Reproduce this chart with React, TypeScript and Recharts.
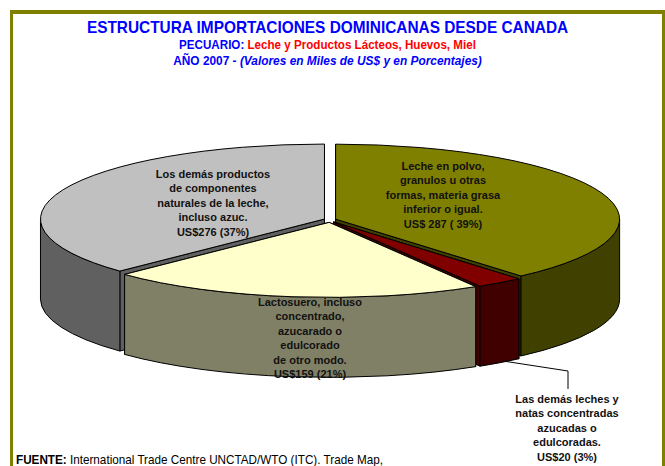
import React from 'react';
import { PieChart, Pie } from 'recharts';

// Order is back-to-front so the painter's order of the slices works out
const CATEGORIES = [
    'Los demás productos de componentes naturales de la leche, incluso azuc.',
    'Leche en polvo, granulos u otras formas, materia grasa inferior o igual.',
    'Las demás leches y natas concentradas azucadas o edulcoradas.',
    'Lactosuero, incluso concentrado, azucarado o edulcorado de otro modo.',
];
const VALUES = [276, 287, 20, 159];
const TOP_COLORS = ['#C0C0C0', '#808000', '#800000', '#FFFFCC'];
const SIDE_COLORS = ['#606060', '#404000', '#400000', '#808066'];

const LABEL_LINES = [
    ['Los demás productos', 'de componentes', 'naturales de la leche,', 'incluso azuc.', 'US$276 (37%)'],
    ['Leche en polvo,', 'granulos u otras', 'formas, materia grasa', 'inferior o igual.', 'US$ 287 ( 39%)'],
    ['Las demás leches y', 'natas concentradas', 'azucadas o', 'edulcoradas.', 'US$20 (3%)'],
    ['Lactosuero, incluso', 'concentrado,', 'azucarado o', 'edulcorado', 'de otro modo.', 'US$159 (21%)'],
];

const chartData = CATEGORIES.map((name, i) => ({
    name,
    value: VALUES[i],
    fill: TOP_COLORS[i],
    side: SIDE_COLORS[i],
}));

const TOTAL = VALUES.reduce((a, b) => a + b, 0);
// first slice has to end at 12 o'clock
const START_ANGLE = 90 + (VALUES[0] / TOTAL) * 360;

const TILT = 75 / 284;
const DEPTH = 80;
const EXPLODE = 6;

const rad = (deg: number) => (deg * Math.PI) / 180;

// Pie slice drawn as a tilted prism
const Slice3D = (props: any) => {
    const { cx, cy, outerRadius, startAngle, endAngle, midAngle, fill, side } = props;
    const rx = outerRadius;
    const ry = outerRadius * TILT;

    // clockwise degrees from 12 o'clock
    let a = 90 - startAngle;
    let b = 90 - endAngle;
    if (a < -0.001) {
        a += 360;
        b += 360;
    }
    const mid = rad(90 - midAngle);
    const ox = cx + EXPLODE * Math.sin(mid);
    const oy = cy - EXPLODE * Math.cos(mid) * 0.4;

    const pt = (deg: number, drop = 0) => [
        ox + rx * Math.sin(rad(deg)),
        oy - ry * Math.cos(rad(deg)) + drop,
    ];
    const arc = (from: number, to: number, drop = 0) => {
        const [x, y] = pt(to, drop);
        const large = Math.abs(to - from) > 180 ? 1 : 0;
        const sweep = to > from ? 1 : 0;
        return `A${rx},${ry} 0 ${large} ${sweep} ${x},${y}`;
    };
    const face = (deg: number) => {
        const [x, y] = pt(deg);
        return `M${ox},${oy} L${x},${y} L${x},${y + DEPTH} L${ox},${oy + DEPTH} Z`;
    };

    const sideFrom = Math.max(a, 90);
    const sideTo = Math.min(b, 270);
    let sidePath = '';
    if (sideTo > sideFrom) {
        const [x0, y0] = pt(sideFrom);
        const [x1, y1] = pt(sideTo, DEPTH);
        sidePath = `M${x0},${y0} ${arc(sideFrom, sideTo)} L${x1},${y1} ${arc(sideTo, sideFrom, DEPTH)} Z`;
    }
    const [sx, sy] = pt(a);

    return (
        <g stroke="#000" strokeWidth={1} strokeLinejoin="round">
            <path d={face(a)} fill={side} />
            <path d={face(b)} fill={side} />
            {sidePath && <path d={sidePath} fill={side} />}
            <path d={`M${ox},${oy} L${sx},${sy} ${arc(a, b)} Z`} fill={fill} />
        </g>
    );
};

const SliceLabel = ({ lines, x, y, step = 14.4 }: { lines: string[]; x: number; y: number; step?: number }) => (
    <>
        {lines.map((line, i) => (
            <div
                key={i}
                style={{
                    position: 'absolute',
                    left: x - 100,
                    width: 200,
                    top: y + i * step - 8,
                    lineHeight: '16px',
                    textAlign: 'center',
                    fontSize: 11,
                    fontWeight: 'bold',
                    color: '#111',
                    whiteSpace: 'nowrap',
                }}
            >
                {line}
            </div>
        ))}
    </>
);

const centered: React.CSSProperties = {
    position: 'absolute',
    left: 0,
    width: 655,
    textAlign: 'center',
    fontWeight: 'bold',
    color: '#0000FF',
    whiteSpace: 'nowrap',
};

export default function App() {
    return (
        <div
            style={{
                position: 'absolute',
                left: 0,
                top: 0,
                width: 665,
                height: 466,
                overflow: 'hidden',
                background: '#fff',
                fontFamily: '"Liberation Sans", Arial, sans-serif',
            }}
        >
            {/* frame: left and top bands, the bottom one falls outside the picture */}
            <div style={{ position: 'absolute', left: 10, top: 10, width: 3, height: 480, background: '#808000' }} />
            <div style={{ position: 'absolute', left: 10, top: 10, width: 655, height: 4, background: '#808000' }} />
            <div style={{ position: 'absolute', left: 662, top: 10, width: 3, height: 480, background: '#808000' }} />

            <div style={{ position: 'absolute', left: 0, top: 0 }}>
                <PieChart width={665} height={466} margin={{ top: 0, right: 0, bottom: 0, left: 0 }}>
                    <Pie
                        data={chartData}
                        dataKey="value"
                        nameKey="name"
                        cx={330}
                        cy={220}
                        innerRadius={0}
                        outerRadius={284}
                        startAngle={START_ANGLE}
                        endAngle={START_ANGLE - 360}
                        paddingAngle={0}
                        stroke="none"
                        labelLine={false}
                        label={false}
                        shape={Slice3D}
                        isAnimationActive={false}
                    />
                </PieChart>
            </div>

            <svg width={665} height={466} style={{ position: 'absolute', left: 0, top: 0 }}>
                <polyline points="503,361 568,371 568,389" fill="none" stroke="#000" strokeWidth={1} />
            </svg>

            {/* source text is slightly condensed */}
            <div style={{ ...centered, top: 18, fontSize: 16.3, lineHeight: '18px', transform: 'scaleX(0.945)' }}>
                ESTRUCTURA IMPORTACIONES DOMINICANAS DESDE CANADA
            </div>
            <div style={{ ...centered, top: 38, fontSize: 12.1, lineHeight: '14px', transform: 'scaleX(0.96)' }}>
                PECUARIO: <span style={{ color: '#FF0000' }}>Leche y Productos Lácteos, Huevos, Miel</span>
            </div>
            <div style={{ ...centered, top: 54, fontSize: 12.2, lineHeight: '14px', transform: 'scaleX(0.975)' }}>
                AÑO 2007 - <i>(Valores en Miles de US$ y en Porcentajes)</i>
            </div>

            <SliceLabel lines={LABEL_LINES[0]} x={213} y={174} />
            <SliceLabel lines={LABEL_LINES[1]} x={443} y={166} />
            <SliceLabel lines={LABEL_LINES[2]} x={567} y={399} />
            <SliceLabel lines={LABEL_LINES[3]} x={310} y={302} />

            <div
                style={{
                    position: 'absolute',
                    left: 16,
                    top: 452,
                    fontSize: 12.2,
                    lineHeight: '16px',
                    color: '#000',
                    whiteSpace: 'nowrap',
                    transform: 'scaleX(0.96)',
                    transformOrigin: 'left center',
                }}
            >
                <b>FUENTE:</b> International Trade Centre UNCTAD/WTO (ITC). Trade Map,
            </div>
        </div>
    );
}
